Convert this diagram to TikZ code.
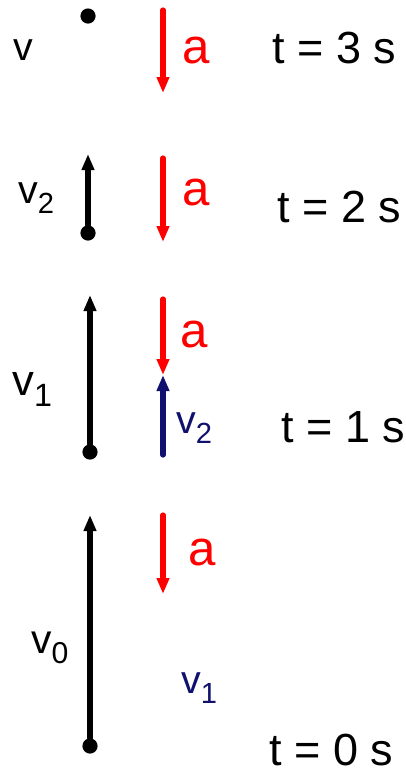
\documentclass[tikz,border=0pt]{standalone}
\usepackage{fontspec}
\setmainfont{Liberation Sans}
\usetikzlibrary{arrows.meta}

\definecolor{velblue}{RGB}{16,16,110}
\newcommand{\subidx}[1]{\raisebox{-0.26em}{\scalebox{0.74}{#1}}}

\begin{document}
\begin{tikzpicture}[x=0.025cm, y=-0.025cm,
  vec/.style={line width=0.13cm, line cap=round, -{Triangle[length=0.4cm, width=0.3cm]}},
  acc/.style={vec, red},
  dot/.style={circle, fill, inner sep=0pt, minimum size=0.38cm},
  lbl/.style={anchor=base west, inner sep=0pt},
  vlbl/.style={lbl, font=\fontsize{28}{33}\selectfont},
  tlbl/.style={lbl, font=\fontsize{32}{38}\selectfont},
  albl/.style={lbl, red, font=\fontsize{35}{42}\selectfont}]
  \useasboundingbox (0,0) rectangle (406,772);

  % t = 3 s
  \node[dot] (p3) at (88,16) {};
  \node[vlbl] (v3) at (13,60) {v};
  \coordinate (a3s) at (163,10);
  \coordinate (a3e) at (163,93);
  \draw[acc] (a3s) -- (a3e);
  \node[albl] (a3) at (182,63) {a};
  \node[tlbl] (t3) at (272,63) {t = 3 s};

  % t = 2 s
  \node[dot] (p2) at (88,233) {};
  \coordinate (v2e) at (88,154);
  \draw[vec] (p2) -- (v2e);
  \node[vlbl] (v2) at (18,203) {v\subidx{2}};
  \coordinate (a2s) at (163,158);
  \coordinate (a2e) at (163,242);
  \draw[acc] (a2s) -- (a2e);
  \node[albl] (a2) at (182,205) {a};
  \node[tlbl] (t2) at (277,222) {t = 2 s};

  % t = 1 s
  \node[dot] (p1) at (90,452) {};
  \coordinate (v1e) at (90,295);
  \draw[vec] (p1) -- (v1e);
  \node[vlbl, font=\fontsize{31}{36}\selectfont] (v1) at (12,395) {v\subidx{1}};
  \coordinate (a1s) at (163,299);
  \coordinate (a1e) at (163,375);
  \draw[acc] (a1s) -- (a1e);
  \node[albl] (a1) at (180,347) {a};
  \coordinate (b1s) at (163,455);
  \draw[vec, velblue] (b1s) -- (a1e);
  \node[vlbl, velblue] (u2) at (176,433) {v\subidx{2}};
  \node[tlbl] (t1) at (281,442) {t = 1 s};

  % t = 0 s
  \node[dot] (p0) at (90,746) {};
  \coordinate (v0e) at (90,515);
  \draw[vec] (p0) -- (v0e);
  \node[vlbl, font=\fontsize{29}{34}\selectfont] (v0) at (31,653) {v\subidx{0}};
  \coordinate (a0s) at (163,515);
  \coordinate (a0e) at (163,594);
  \draw[acc] (a0s) -- (a0e);
  \node[albl] (a0) at (188,565) {a};
  \node[vlbl, velblue] (u1) at (181,693) {v\subidx{1}};
  \node[tlbl] (t0) at (269,765) {t = 0 s};
\end{tikzpicture}
\end{document}
